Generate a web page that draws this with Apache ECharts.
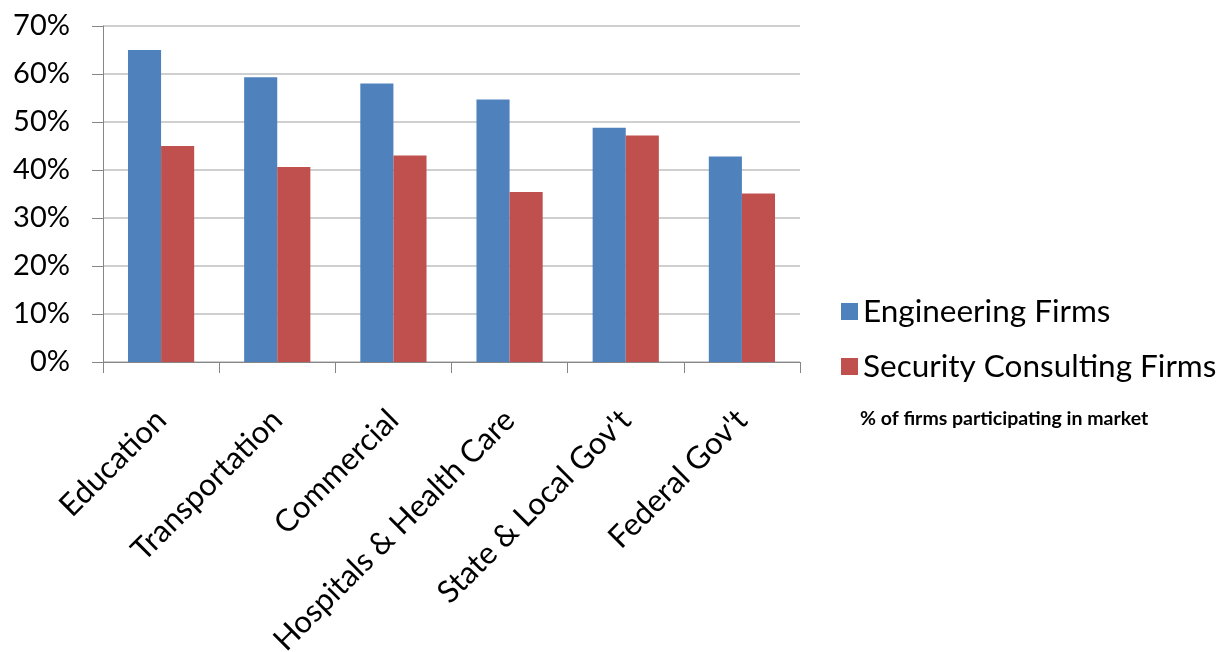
<!DOCTYPE html>
<html>
<head>
<meta charset="utf-8">
<script src="https://cdn.jsdelivr.net/npm/echarts@6/dist/echarts.min.js"></script>
<style>
  html, body { margin: 0; padding: 0; background: #fff; }
  #chart { width: 1221px; height: 652px; }
</style>
</head>
<body>
<div id="chart"></div>
<script>
// Market sectors and share of firms active in each
const categories = ['Education', 'Transportation', 'Commercial', 'Hospitals & Health Care', "State & Local Gov't", "Federal Gov't"];
const engineeringFirms = [65.0, 59.3, 58.0, 54.7, 48.8, 42.8];
const securityConsultingFirms = [45.0, 40.6, 43.0, 35.4, 47.2, 35.1];
const seriesNames = ['Engineering Firms', 'Security Consulting Firms'];
const yTicks = [0, 10, 20, 30, 40, 50, 60, 70];

const FONT = 'Lato, "Open Sans", sans-serif';

const chart = echarts.init(document.getElementById('chart'), null, { renderer: 'canvas' });

chart.setOption({
  backgroundColor: '#ffffff',
  animation: false,
  title: {
    text: '% of firms participating in market',
    left: 855,
    top: 404,
    textStyle: { fontFamily: FONT, fontSize: 19.5, fontWeight: 'bold', color: '#000' }
  },
  legend: {
    orient: 'vertical',
    left: 836,
    top: 287,
    itemWidth: 17,
    itemHeight: 17,
    itemGap: 16,
    icon: 'rect',
    data: seriesNames,
    textStyle: { fontFamily: FONT, fontSize: 31.5, color: '#000', lineHeight: 39, padding: [0, 0, 0, 0] }
  },
  grid: { left: 103, top: 26, right: 421, bottom: 290, containLabel: false, outerBoundsMode: 'none' },
  xAxis: {
    type: 'category',
    data: categories,
    axisLine: { lineStyle: { color: '#868686', width: 1 } },
    axisTick: { show: true, alignWithLabel: false, length: 11, inside: false, lineStyle: { color: '#868686' } },
    axisLabel: {
      rotate: 45,
      interval: 0,
      margin: 53,
      fontFamily: FONT,
      fontSize: 31,
      color: '#000'
    }
  },
  yAxis: {
    type: 'value',
    min: yTicks[0],
    max: yTicks[yTicks.length - 1],
    interval: 10,
    axisLine: { show: true, lineStyle: { color: '#868686', width: 1 } },
    axisTick: { show: true, length: 11, inside: false, lineStyle: { color: '#868686' } },
    splitLine: { show: true, lineStyle: { color: '#bfbfbf', width: 1.5 } },
    axisLabel: {
      margin: 33,
      fontFamily: FONT,
      fontSize: 29,
      color: '#000',
      formatter: v => v + '%'
    }
  },
  series: [
    {
      name: seriesNames[0],
      type: 'bar',
      data: engineeringFirms,
      barGap: '0%',
      barCategoryGap: '43%',
      itemStyle: { color: '#4F81BD' }
    },
    {
      name: seriesNames[1],
      type: 'bar',
      data: securityConsultingFirms,
      barGap: '0%',
      barCategoryGap: '43%',
      itemStyle: { color: '#C0504D' }
    }
  ]
});
</script>
</body>
</html>
